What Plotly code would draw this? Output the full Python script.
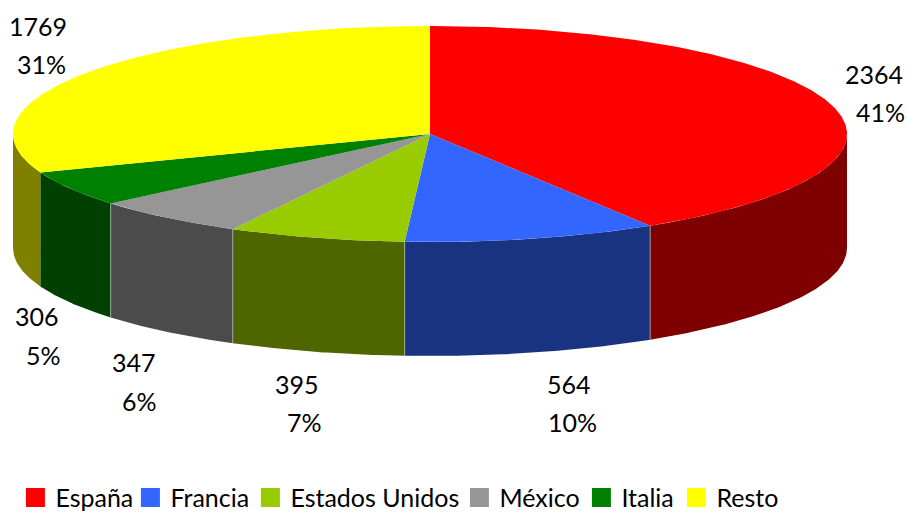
import numpy as np
import plotly.graph_objects as go

categories = ["España", "Francia", "Estados Unidos", "México", "Italia", "Resto"]
values = [2364, 564, 395, 347, 306, 1769]
top_colors = ["#ff0000", "#3366ff", "#99cc00", "#969696", "#008000", "#ffff00"]
side_colors = ["#7f0000", "#1a3380", "#4f6600", "#4b4b4b", "#004000", "#808000"]

# label centres in pixels: value line, percent line
value_pos = [(874, 74), (569, 384), (297, 384), (134, 362), (37, 316), (38, 26)]
pct_pos = [(880, 112), (572, 422), (304, 422), (139, 401), (43, 355), (41, 64)]
legend_widths = [70, 75, 164, 77, 50, 60]

# pie geometry in pixels
cx, cy = 430, 134
rx, ry = 417, 108
depth = 114
font = "Lato"
font_size = 25

total = sum(values)
edges = np.cumsum([0] + values) / total * 2 * np.pi


def arc(a, b):
    t = np.linspace(a, b, max(int((b - a) * 120), 2))
    return cx + rx * np.sin(t), cy - ry * np.cos(t)


fig = go.Figure()

# side walls, only the front half of the disc shows
for i in range(len(values)):
    a = max(edges[i], np.pi / 2)
    b = min(edges[i + 1], 3 * np.pi / 2)
    if b <= a:
        continue
    x, y = arc(a, b)
    fig.add_trace(go.Scatter(
        x=np.concatenate([x, x[::-1]]),
        y=np.concatenate([y, y[::-1] + depth]),
        fill="toself", fillcolor=side_colors[i], mode="lines",
        line=dict(width=0), showlegend=False, hoverinfo="skip",
    ))

# thin light edges between the walls
for e in edges[1:5]:
    x, y = arc(e, e + 0.001)
    fig.add_trace(go.Scatter(
        x=[x[0], x[0]], y=[y[0], y[0] + depth], mode="lines",
        line=dict(width=1, color="rgba(190,190,190,0.7)"),
        showlegend=False, hoverinfo="skip",
    ))

# top of the disc
for i in range(len(values)):
    x, y = arc(edges[i], edges[i + 1])
    fig.add_trace(go.Scatter(
        x=np.concatenate([[cx], x, [cx]]),
        y=np.concatenate([[cy], y, [cy]]),
        fill="toself", fillcolor=top_colors[i], mode="lines",
        line=dict(width=0), showlegend=False, hoverinfo="skip",
    ))

# legend entries
for i, name in enumerate(categories):
    fig.add_trace(go.Scatter(
        x=[None], y=[None], name=name, mode="markers",
        marker=dict(symbol="square", size=16, color=top_colors[i],
                    line=dict(width=3, color=top_colors[i])),
        legendwidth=legend_widths[i],
    ))

annotations = []
for i, v in enumerate(values):
    pct = round(100 * v / total)
    for (px, py), txt in ((value_pos[i], str(v)), (pct_pos[i], f"{pct}%")):
        annotations.append(dict(
            x=px, y=py, text=txt, showarrow=False, xref="x", yref="y",
            font=dict(family=font, size=font_size, color="#000000"),
        ))

fig.update_layout(
    width=907, height=512,
    margin=dict(l=0, r=0, t=0, b=0, autoexpand=False),
    paper_bgcolor="white", plot_bgcolor="white",
    xaxis=dict(range=[0, 907], visible=False, fixedrange=True),
    yaxis=dict(range=[512, 0], visible=False, fixedrange=True),
    annotations=annotations,
    legend=dict(
        orientation="h", x=0.017, y=-0.017, xanchor="left", yanchor="bottom",
        font=dict(family=font, size=font_size, color="#000000"),
        bgcolor="rgba(0,0,0,0)", itemsizing="trace",
    ),
)

# page margin would push the chart off the window
fig.write_html("out.html", config=dict(displayModeBar=False),
               post_script="document.body.style.margin='0';")
